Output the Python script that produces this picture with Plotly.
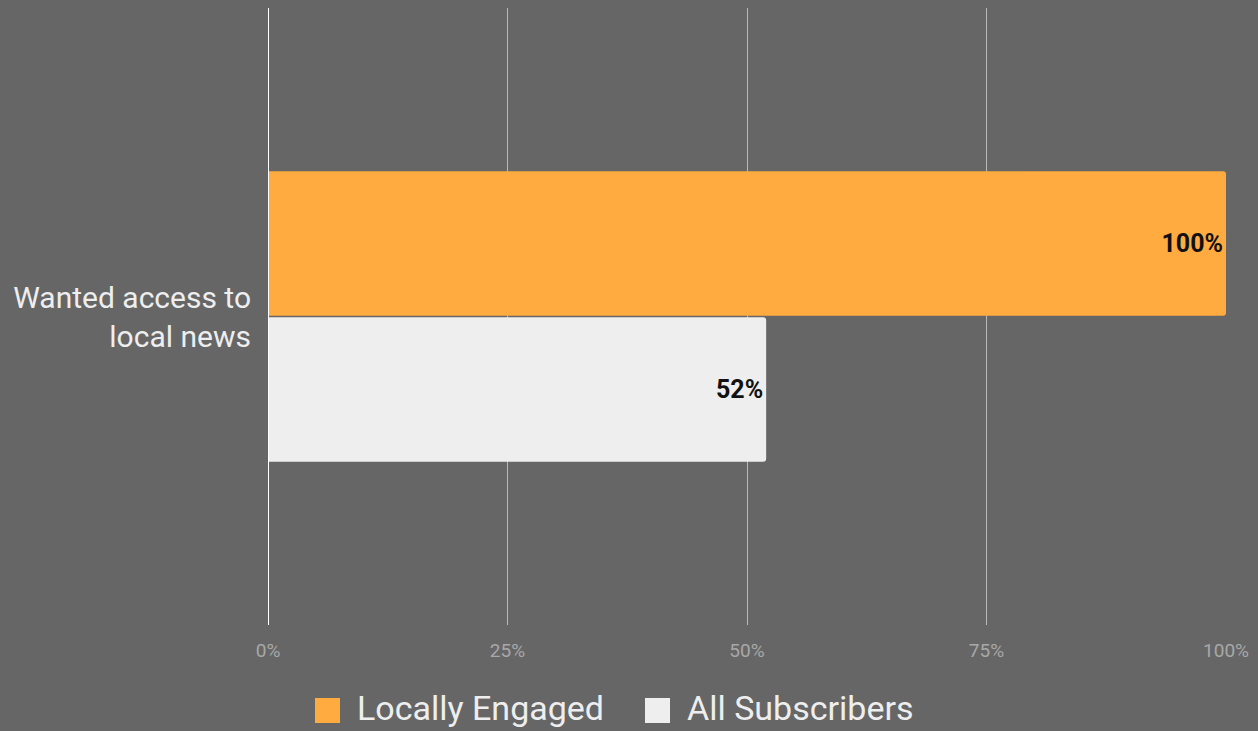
import plotly.graph_objects as go

categories = ["Wanted access to<br>local news"]
series_names = ["Locally Engaged", "All Subscribers"]
locally_engaged = [100]
all_subscribers = [52]
series_values = [locally_engaged, all_subscribers]
series_colors = ["#FFAB40", "#EEEEEE"]
tick_values = [0, 25, 50, 75, 100]
tick_labels = ["0%", "25%", "50%", "75%", "100%"]

W, H = 1258, 731
ML, MR, MT, MB = 268, 32, 8, 106
PW, PH = W - ML - MR, H - MT - MB

fig = go.Figure()
for name, vals, col in zip(series_names, series_values, series_colors):
    fig.add_trace(go.Bar(
        y=categories, x=vals, name=name, orientation="h",
        marker=dict(color=col, line=dict(width=0)),
        text=[f"{v}%" for v in vals], textposition="inside",
        insidetextanchor="end", textangle=0,
        textfont=dict(family="Roboto", size=25, color="#111111", weight="bold"),
        showlegend=False,
    ))

# legend drawn as swatches + labels below the axis
def px_x(p):
    return (p - ML) / PW

def px_y(p):
    return (H - MB - p) / PH

legend_x = [315, 645]
sw = 25
shapes = []
annotations = []
for x0, name, col in zip(legend_x, series_names, series_colors):
    shapes.append(dict(type="rect", xref="paper", yref="paper",
                       x0=px_x(x0), x1=px_x(x0 + sw), y0=px_y(723), y1=px_y(698),
                       fillcolor=col, line=dict(width=0), layer="above"))
    annotations.append(dict(xref="paper", yref="paper", x=px_x(x0 + sw + 15), y=px_y(708),
                            text=name, showarrow=False, xanchor="left", yanchor="middle",
                            font=dict(family="Roboto", size=34, color="#EEEEEE")))

fig.update_layout(
    width=W, height=H,
    margin=dict(l=ML, r=MR, t=MT, b=MB),
    paper_bgcolor="#666666", plot_bgcolor="#666666",
    barmode="group", bargap=0.527, bargroupgap=0.01,
    barcornerradius=3,
    font=dict(family="Roboto"),
    shapes=shapes, annotations=annotations,
    showlegend=False,
    xaxis=dict(range=[0, 100], tickvals=tick_values, ticktext=tick_labels,
               showgrid=True, gridcolor="#B8B8B8", gridwidth=1,
               zeroline=False, showline=False,
               tickfont=dict(family="Roboto", size=19, color="#A8A8A8"),
               ticks="", ticklabelstandoff=12, fixedrange=True),
    yaxis=dict(autorange="reversed", showgrid=False, zeroline=False,
               showline=False, ticks="", ticklabelstandoff=16,
               tickfont=dict(family="Roboto", size=30, color="#EEEEEE")),
)
# white baseline at 0%
fig.add_shape(type="line", xref="x", yref="paper", x0=0, x1=0, y0=0, y1=1,
              line=dict(color="#FFFFFF", width=2), layer="above")

fig.write_html("out.html")
